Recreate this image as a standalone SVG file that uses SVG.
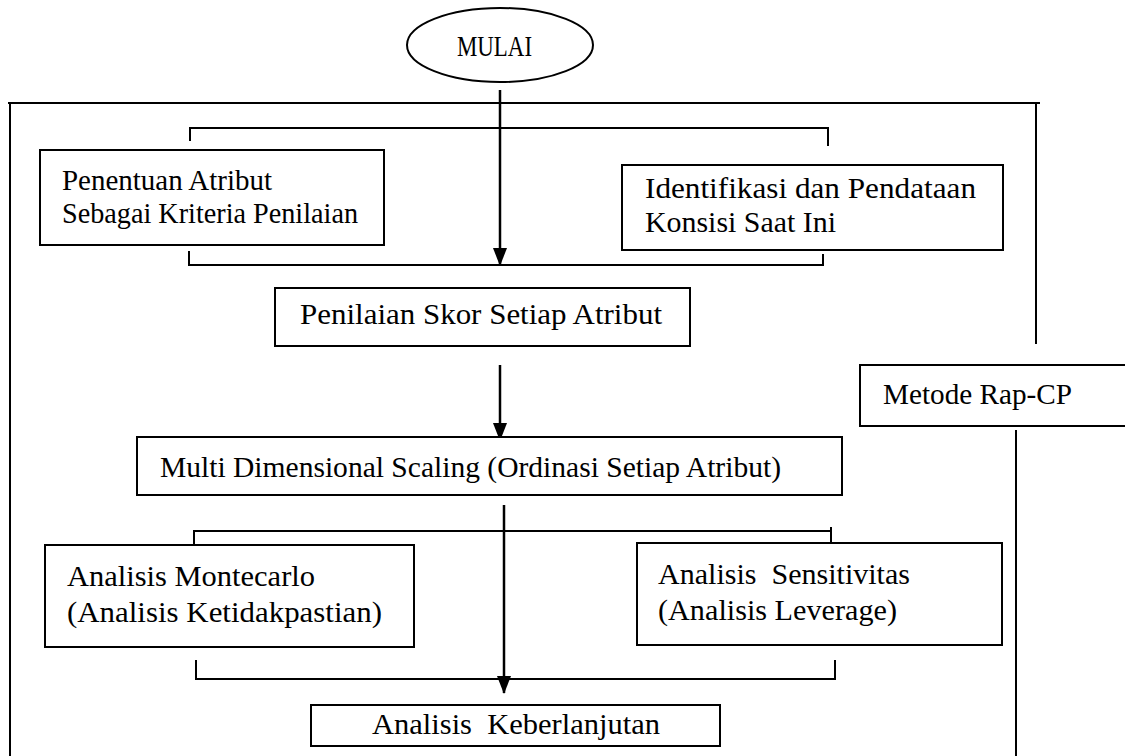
<svg xmlns="http://www.w3.org/2000/svg" width="1125" height="756" viewBox="0 0 1125 756">
<style>
.box{fill:#fff;stroke:#000;stroke-width:2}
.ln{fill:none;stroke:#000;stroke-width:2}
.ar{fill:none;stroke:#000;stroke-width:2.5}
text{font-family:"Liberation Serif","Times New Roman",serif;font-size:29px;fill:#000}
</style>
<defs>
<marker id="ah" markerUnits="userSpaceOnUse" markerWidth="18" markerHeight="14" refX="17" refY="7" orient="auto" viewBox="0 0 18 14">
<path d="M0,0 L18,7 L0,14 Z" fill="#000"/>
</marker>
</defs>
<rect width="1125" height="756" fill="#fff"/>
<g id="frame">
<path class="ln" d="M8,103 H1040 M10,103 V756 M1036,103 V344 M1016,430 V756"/>
</g>
<g id="connectors">
<path class="ar" d="M500,90 V265" marker-end="url(#ah)"/>
<path class="ar" d="M500,365 V440" marker-end="url(#ah)"/>
<path class="ar" d="M504,505 V693" marker-end="url(#ah)"/>
<path class="ln" d="M190,141 V128 H828 V146"/>
<path class="ln" d="M189,251 V265 H823 V254"/>
<path class="ln" d="M194,549 V531 H831 M831,527 V549"/>
<path class="ln" d="M196,660 V679 H835 V660"/>
</g>
<g id="mulai">
<ellipse cx="500" cy="45" rx="93" ry="37" fill="#fff" stroke="#000" stroke-width="2"/>
<text x="457" y="56" textLength="75" lengthAdjust="spacingAndGlyphs" font-size="26">MULAI</text>
</g>
<g id="penentuan">
<rect class="box" x="40" y="150" width="344" height="95"/>
<text x="62" y="190" textLength="210" lengthAdjust="spacingAndGlyphs">Penentuan Atribut</text>
<text x="62" y="223" textLength="296" lengthAdjust="spacingAndGlyphs">Sebagai Kriteria Penilaian</text>
</g>
<g id="identifikasi">
<rect class="box" x="622" y="165" width="381" height="85"/>
<text x="645" y="198" textLength="331" lengthAdjust="spacingAndGlyphs">Identifikasi dan Pendataan</text>
<text x="645" y="232" textLength="191" lengthAdjust="spacingAndGlyphs">Konsisi Saat Ini</text>
</g>
<g id="penilaian">
<rect class="box" x="275" y="288" width="415" height="58"/>
<text x="300" y="324" textLength="362" lengthAdjust="spacingAndGlyphs">Penilaian Skor Setiap Atribut</text>
</g>
<g id="mds">
<rect class="box" x="137" y="437" width="705" height="58"/>
<text x="160" y="477" textLength="621" lengthAdjust="spacingAndGlyphs">Multi Dimensional Scaling (Ordinasi Setiap Atribut)</text>
</g>
<g id="montecarlo">
<rect class="box" x="45" y="545" width="369" height="102"/>
<text x="67" y="586" textLength="248" lengthAdjust="spacingAndGlyphs">Analisis Montecarlo</text>
<text x="67" y="622" textLength="315" lengthAdjust="spacingAndGlyphs">(Analisis Ketidakpastian)</text>
</g>
<g id="sensitivitas">
<rect class="box" x="637" y="543" width="365" height="102"/>
<text x="658" y="584" textLength="252" lengthAdjust="spacingAndGlyphs" xml:space="preserve">Analisis  Sensitivitas</text>
<text x="658" y="620" textLength="239" lengthAdjust="spacingAndGlyphs">(Analisis Leverage)</text>
</g>
<g id="keberlanjutan">
<rect class="box" x="311" y="705" width="409" height="41"/>
<text x="372" y="734" textLength="288" lengthAdjust="spacingAndGlyphs" xml:space="preserve">Analisis  Keberlanjutan</text>
</g>
<g id="metode">
<rect class="box" x="860" y="365" width="300" height="61"/>
<text x="883" y="404" textLength="189" lengthAdjust="spacingAndGlyphs">Metode Rap-CP</text>
</g>
</svg>
